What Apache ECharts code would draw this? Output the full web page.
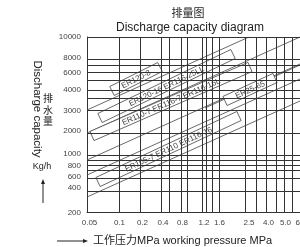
<!DOCTYPE html>
<html>
<head>
<meta charset="utf-8">
<script src="https://cdn.jsdelivr.net/npm/echarts@6/dist/echarts.min.js"></script>
<style>
  html, body { margin: 0; padding: 0; background: #fff; }
  #chart { width: 300px; height: 247px; }
</style>
</head>
<body>
<div id="chart"></div>
<script>
// the diagram's axes are schematic (not linear, not log), so both axes run in
// "chart units" along the plot and the printed ticks are placed on them
const xTickText = ['0.05', '0.1', '0.2', '0.4', '0.8', '1.2', '1.6', '2.5', '4.0', '5.0', '6.0']
const xTickPos = [2.5, 32.5, 55.5, 76, 95.5, 117, 132.5, 162, 181.5, 198.5, 214]
const yTickText = ['10000', '8000', '6000', '4000', '3000', '2000', '1000', '800', '600', '400', '200']
const yTickPos = [175.5, 154.5, 140, 122.5, 102, 81.5, 58.5, 46.5, 35.5, 24.5, 0]

// grid lines of the printed chart
const xGrid = [32, 53, 74, 82.5, 94, 100, 115, 119, 125, 132, 158, 169, 179, 189.5, 197, 205, 213]
const yGrid = [175.5, 153.5, 147.5, 140, 132, 122.5, 114.5, 102, 79.5, 57, 52, 47, 42, 34.5, 21.5]

// capacity lines [x1, y1, x2, y2]
const capLines = [
  [0, 102.5, 162, 175.5],
  [0, 79.5, 213, 175.5],
  [0, 52.5, 213, 148.5],
  [0, 37.5, 213, 133.5],
  [0, 15.5, 213, 111.5],
  [118, 104.5, 213, 147.5]
]

// model label boxes along the lines [x1, y1, x2, y2]
const boxNames = ['ER120-8', 'ER120-16 ER116-25LL', 'ER110-7 ER116-7 ER116-16L', 'ER25-65', 'ER105-7 ER110 ER116-16']
const boxEnds = [
  [25, 121.5, 73, 145.5],
  [13, 94.5, 146, 158.5],
  [5, 76.5, 163, 145.5],
  [138, 111.5, 188, 134.5],
  [11, 30.5, 152, 96.5]
]

const FONT = '"Liberation Sans", "Noto Sans CJK SC", sans-serif'
const chart = echarts.init(document.getElementById('chart'))

const option = {
  animation: false,
  grid: { left: 87, top: 37, width: 223, height: 175.5, containLabel: false, outerBoundsMode: 'none' },
  xAxis: {
    type: 'value', min: 0, max: 223,
    axisLine: { show: true, lineStyle: { color: '#333', width: 1 } },
    axisTick: { show: false },
    splitLine: { show: false },
    axisLabel: {
      customValues: xTickPos,
      formatter: v => xTickText[xTickPos.indexOf(v)],
      margin: 6, fontSize: 8, color: '#444', fontFamily: FONT
    }
  },
  yAxis: {
    type: 'value', min: 0, max: 175.5,
    axisLine: { show: true, lineStyle: { color: '#333', width: 1 } },
    axisTick: { show: false },
    splitLine: { show: false },
    axisLabel: {
      customValues: yTickPos,
      formatter: v => yTickText[yTickPos.indexOf(v)],
      margin: 6, fontSize: 8, color: '#444', fontFamily: FONT
    }
  },
  series: [
    {
      type: 'line', data: [], silent: true,
      markLine: {
        silent: true, symbol: ['none', 'none'], label: { show: false },
        lineStyle: { color: '#333', width: 1, type: 'solid' },
        data: xGrid.map(v => ({ xAxis: v })).concat(yGrid.map(v => ({ yAxis: v })))
      }
    },
    {
      type: 'lines', coordinateSystem: 'cartesian2d', silent: true,
      lineStyle: { color: '#444', width: 0.8, opacity: 1 },
      data: capLines.map(l => ({ coords: [[l[0], l[1]], [l[2], l[3]]] }))
    },
    {
      type: 'custom', silent: true,
      data: boxEnds,
      renderItem: function (params, api) {
        const p1 = api.coord([api.value(0), api.value(1)])
        const p2 = api.coord([api.value(2), api.value(3)])
        const dx = p2[0] - p1[0], dy = p2[1] - p1[1]
        const len = Math.sqrt(dx * dx + dy * dy)
        const h = 10
        return {
          type: 'group',
          x: (p1[0] + p2[0]) / 2, y: (p1[1] + p2[1]) / 2,
          rotation: Math.atan2(-dy, dx),
          children: [
            { type: 'rect', shape: { x: -len / 2, y: -h / 2, width: len, height: h },
              style: { fill: '#fff', stroke: '#555', lineWidth: 0.8 } },
            { type: 'text', style: { text: boxNames[params.dataIndex], x: 0, y: 0.5,
              align: 'center', verticalAlign: 'middle', fontSize: 8, fontFamily: FONT, fill: '#444' } }
          ]
        }
      }
    }
  ],
  graphic: [
    { type: 'text', x: 188, y: 14, style: { text: '排量图', fontSize: 11, fontFamily: FONT, fill: '#222', align: 'center', verticalAlign: 'middle' } },
    { type: 'text', x: 190, y: 27.5, style: { text: 'Discharge capacity diagram', fontSize: 12, fontFamily: FONT, fill: '#222', align: 'center', verticalAlign: 'middle' } },
    { type: 'text', x: 37, y: 109, rotation: -Math.PI / 2, style: { text: 'Discharge capacity', fontSize: 11.5, fontFamily: FONT, fill: '#222', align: 'center', verticalAlign: 'middle' } },
    { type: 'text', x: 48, y: 111, style: { text: '排\n水\n量', fontSize: 10, lineHeight: 11.5, fontFamily: FONT, fill: '#222', align: 'center', verticalAlign: 'middle' } },
    { type: 'text', x: 42, y: 167, style: { text: 'Kg/h', fontSize: 9, fontFamily: FONT, fill: '#222', align: 'center', verticalAlign: 'middle' } },
    { type: 'line', shape: { x1: 43, y1: 203, x2: 43, y2: 183 }, style: { stroke: '#222', lineWidth: 1 } },
    { type: 'polygon', shape: { points: [[43, 179], [41, 184], [45, 184]] }, style: { fill: '#222' } },
    { type: 'line', shape: { x1: 57, y1: 241, x2: 84, y2: 241 }, style: { stroke: '#222', lineWidth: 1 } },
    { type: 'polygon', shape: { points: [[88, 241], [83, 239], [83, 243]] }, style: { fill: '#222' } },
    { type: 'text', x: 93, y: 241, style: { text: '工作压力MPa working pressure MPa', fontSize: 11, fontFamily: FONT, fill: '#222', align: 'left', verticalAlign: 'middle' } }
  ]
}
chart.setOption(option)
</script>
</body>
</html>
